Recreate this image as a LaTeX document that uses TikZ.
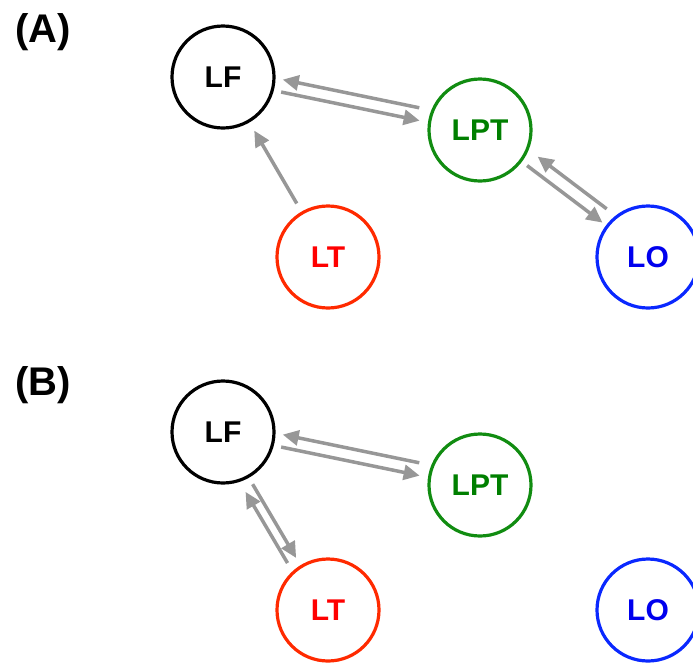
\documentclass[tikz,border=0pt]{standalone}
\usepackage{fontspec}
\setmainfont{Liberation Sans}
\usetikzlibrary{arrows.meta,calc}

\definecolor{lfcol}{HTML}{000000}
\definecolor{lptline}{HTML}{118C11}
\definecolor{lpttext}{HTML}{007F00}
\definecolor{ltline}{HTML}{FF2A00}
\definecolor{lttext}{HTML}{FF0000}
\definecolor{loline}{HTML}{0A28FF}
\definecolor{lotext}{HTML}{0000EE}
\definecolor{arrgray}{HTML}{979797}

\tikzset{
  region/.style={circle, draw, line width=3.2pt, minimum size=102pt, inner sep=0pt,
    font=\fontsize{30}{30}\selectfont\bfseries},
  lf/.style={region, draw=lfcol, text=lfcol},
  lpt/.style={region, draw=lptline, text=lpttext},
  lt/.style={region, draw=ltline, text=lttext},
  lo/.style={region, draw=loline, text=lotext},
  arr/.style={draw=arrgray, line width=3.5pt, -{Triangle[length=16pt,width=15pt]}},
  panel/.style={font=\fontsize{40}{40}\selectfont\bfseries, inner sep=0pt}
}

\begin{document}
\begin{tikzpicture}[x=1pt, y=-1pt]
  \clip (0,0) rectangle (693,662);

  % panel (A)
  \node[panel] (labA) at (43,32) {(A)};
  \node[lf]  (LFa)  at (223,77)  {LF};
  \node[lpt] (LPTa) at (480,130) {LPT};
  \node[lt]  (LTa)  at (328,257) {LT};
  \node[lo]  (LOa)  at (648,257) {LO};

  \draw[arr, shorten <=64pt, shorten >=59pt]
    ($(LPTa)!9.5pt!-90:(LFa)$) -- ($(LFa)!9.5pt!90:(LPTa)$);
  \draw[arr, shorten <=60pt, shorten >=61pt]
    ($(LFa)!3pt!-90:(LPTa)$) -- ($(LPTa)!3pt!90:(LFa)$);
  \draw[arr, shorten <=62pt, shorten >=62pt] (LTa.center) -- (LFa.center);
  \draw[arr, shorten <=62pt, shorten >=62pt]
    ($(LOa)!13.5pt!-90:(LPTa)$) -- ($(LPTa)!13.5pt!90:(LOa)$);
  \draw[arr, shorten <=59pt, shorten >=57pt] (LPTa.center) -- (LOa.center);

  % panel (B)
  \node[panel] (labB) at (43,385) {(B)};
  \node[lf]  (LFb)  at (223,432) {LF};
  \node[lpt] (LPTb) at (480,485) {LPT};
  \node[lt]  (LTb)  at (328,610) {LT};
  \node[lo]  (LOb)  at (648,610) {LO};

  \draw[arr, shorten <=64pt, shorten >=59pt]
    ($(LPTb)!9.5pt!-90:(LFb)$) -- ($(LFb)!9.5pt!90:(LPTb)$);
  \draw[arr, shorten <=60pt, shorten >=61pt]
    ($(LFb)!3pt!-90:(LPTb)$) -- ($(LPTb)!3pt!90:(LFb)$);
  \draw[arr, shorten <=61pt, shorten >=63pt]
    ($(LTb)!11pt!90:(LFb)$) -- ($(LFb)!11pt!-90:(LTb)$);
  \draw[arr, shorten <=60pt, shorten >=61pt]
    ($(LFb)!1pt!-90:(LTb)$) -- ($(LTb)!1pt!90:(LFb)$);
\end{tikzpicture}
\end{document}
